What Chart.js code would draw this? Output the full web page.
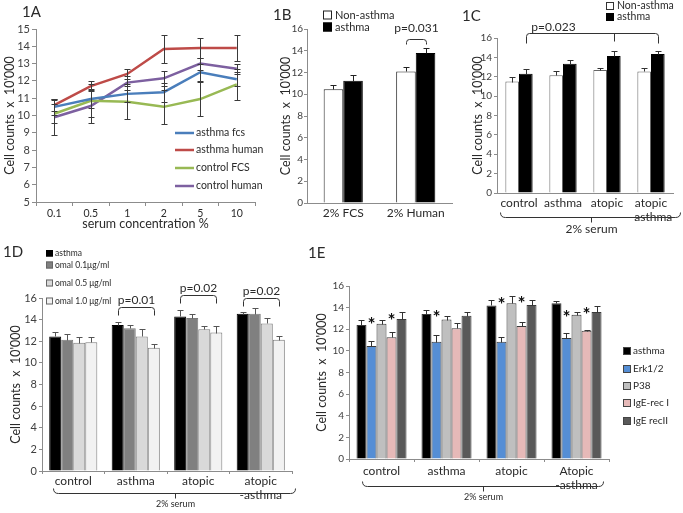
<!DOCTYPE html>
<html>
<head>
<meta charset="utf-8">
<script src="https://cdn.jsdelivr.net/npm/chart.js"></script>
<style>
  body { margin: 0; width: 683px; height: 513px; position: relative; overflow: hidden; background: #fff; }
  canvas { position: absolute; }
</style>
</head>
<body>
<script>
// ---- 1A : serum concentration curves ----
const serumConc = ['0.1', '0.5', '1', '2', '5', '10'];
const asthmaFcs = [10.5, 10.95, 11.25, 11.35, 12.5, 12.1];
const asthmaFcsErr = [0.45, 0.5, 0.45, 0.55, 0.5, 0.4];
const asthmaHuman = [10.6, 11.7, 12.4, 13.85, 13.9, 13.9];
const asthmaHumanErr = [0.35, 0.3, 0.3, 0.8, 0.6, 0.75];
const controlFcs = [10.1, 10.85, 10.8, 10.5, 10.95, 11.8];
const controlFcsErr = [0.55, 0.95, 1.0, 1.0, 1.0, 0.9];
const controlHuman = [9.9, 10.55, 11.9, 12.15, 13.0, 12.7];
const controlHumanErr = [1.0, 1.0, 0.4, 0.45, 0.35, 0.3];

// ---- 1B : FCS vs human serum ----
const serumType = ['2% FCS', '2% Human'];
const bNonAsthma = [10.45, 12.1];
const bNonAsthmaErr = [0.4, 0.45];
const bAsthma = [11.25, 13.8];
const bAsthmaErr = [0.5, 0.45];
const bPvalue = 'p=0.031';

// ---- 1C : serum donors ----
const donorGroups = ['control', 'asthma', 'atopic', ['atopic', '-asthma']];
const cNonAsthma = [11.5, 12.15, 12.7, 12.55];
const cNonAsthmaErr = [0.5, 0.4, 0.25, 0.4];
const cAsthma = [12.3, 13.35, 14.15, 14.35];
const cAsthmaErr = [0.5, 0.4, 0.55, 0.3];
const cPvalue = 'p=0.023';

// ---- 1D : omalizumab ----
const dGroups = ['control', 'asthma', 'atopic', ['atopic', '-asthma']];
const dAsthma = [12.45, 13.5, 14.3, 14.55];
const dAsthmaErr = [0.45, 0.3, 0.55, 0.2];
const dOmal01 = [12.15, 13.2, 14.15, 14.55];
const dOmal01Err = [0.5, 0.3, 0.35, 0.5];
const dOmal05 = [11.85, 12.45, 13.1, 13.65];
const dOmal05Err = [0.5, 0.7, 0.35, 0.5];
const dOmal10 = [11.9, 11.4, 12.8, 12.15];
const dOmal10Err = [0.5, 0.35, 0.6, 0.3];
const dPvalues = ['p=0.01', 'p=0.02', 'p=0.02'];

// ---- 1E : inhibitors ----
const eGroups = ['control', 'asthma', 'atopic', ['Atopic', '-asthma']];
const eAsthma = [12.4, 13.4, 14.2, 14.4];
const eAsthmaErr = [0.45, 0.35, 0.55, 0.25];
const eErk = [10.45, 10.85, 10.85, 11.2];
const eErkErr = [0.45, 0.65, 0.4, 0.45];
const eP38 = [12.5, 12.9, 14.4, 13.35];
const eP38Err = [0.35, 0.35, 0.65, 0.2];
const eIgE1 = [11.25, 12.1, 12.3, 11.85];
const eIgE1Err = [0.5, 0.5, 0.35, 0.1];
const eIgE2 = [12.95, 13.25, 14.25, 13.6];
const eIgE2Err = [0.65, 0.3, 0.45, 0.55];
const eErkSig = [true, true, true, true];
const eIgE1Sig = [true, false, true, true];

const panelTags = ['1A', '1B', '1C', '1D', '1E'];

const FONT = "Lato, 'Open Sans', sans-serif";
const AXIS = '#8c8c8c';
const TICK = '#404040';
const TXT = '#2a2a2a';
const Y_TITLE = "Cell counts  x  10'000";

Chart.defaults.font.family = FONT;
Chart.defaults.color = TXT;
Chart.defaults.animation = false;
Chart.defaults.events = [];
Chart.defaults.plugins.legend.display = false;
Chart.defaults.plugins.tooltip.enabled = false;

function canvasAt(left, top, w, h) {
    const c = document.createElement('canvas');
    c.width = w; c.height = h;
    c.style.left = left + 'px'; c.style.top = top + 'px';
    c.style.width = w + 'px'; c.style.height = h + 'px';
    document.body.appendChild(c);
    return c;
}

function yScale(min, max, step, width, size, tick, pad, titlePad) {
    return {
        min: min, max: max,
        ticks: { stepSize: step, font: { size: size }, color: TICK, padding: pad },
        grid: { drawOnChartArea: false, tickLength: tick, color: AXIS },
        border: { color: AXIS },
        title: { display: true, text: Y_TITLE, font: { size: 12.5 }, color: TXT, padding: { top: titlePad, bottom: 0 } },
        afterFit: s => { s.width = width; }
    };
}

function xScale(height, size, tick, pad) {
    return {
        offset: true,
        ticks: { font: { size: size }, color: TXT, padding: pad, maxRotation: 0, autoSkip: false },
        grid: { drawOnChartArea: false, offset: true, drawTicks: tick > 0, tickLength: tick, color: AXIS },
        border: { color: AXIS },
        afterFit: s => { s.height = height; }
    };
}

function bar(label, data, fill, border) {
    return { label: label, data: data, backgroundColor: fill, borderColor: border, borderWidth: 1, borderSkipped: 'start' };
}

// error bars on every element of a dataset
function errBars(chart, ds, errs, both, cap, color) {
    const ctx = chart.ctx, y = chart.scales.y;
    const vals = chart.data.datasets[ds].data;
    ctx.save();
    ctx.strokeStyle = color;
    ctx.lineWidth = 1;
    chart.getDatasetMeta(ds).data.forEach((el, i) => {
        const x = Math.round(el.x) + 0.5;
        const top = Math.round(y.getPixelForValue(vals[i] + errs[i])) + 0.5;
        const bot = Math.round(y.getPixelForValue(both ? vals[i] - errs[i] : vals[i])) + 0.5;
        ctx.beginPath();
        ctx.moveTo(x, bot); ctx.lineTo(x, top);
        ctx.moveTo(x - cap, top); ctx.lineTo(x + cap, top);
        if (both) { ctx.moveTo(x - cap, bot); ctx.lineTo(x + cap, bot); }
        ctx.stroke();
    });
    ctx.restore();
}

// bracket opening downward over several x positions
function bracket(ctx, xs, y, leg, color) {
    const a = xs[0], b = xs[xs.length - 1], r = 3;
    ctx.save();
    ctx.strokeStyle = color; ctx.lineWidth = 1;
    ctx.beginPath();
    ctx.moveTo(a, y + leg);
    ctx.lineTo(a, y + r);
    ctx.quadraticCurveTo(a, y, a + r, y);
    ctx.lineTo(b - r, y);
    ctx.quadraticCurveTo(b, y, b, y + r);
    ctx.lineTo(b, y + leg);
    xs.slice(1, -1).forEach(x => { ctx.moveTo(x, y); ctx.lineTo(x, y + leg - 2); });
    ctx.stroke();
    ctx.restore();
}

// brace under the categories
function brace(ctx, x1, x2, y, h, label, size, color) {
    const xm = Math.round((x1 + x2) / 2) + 0.5;
    ctx.save();
    ctx.strokeStyle = color; ctx.lineWidth = 1;
    ctx.beginPath();
    ctx.moveTo(x1, y - h);
    ctx.quadraticCurveTo(x1, y, x1 + h, y);
    ctx.lineTo(x2 - h, y);
    ctx.quadraticCurveTo(x2, y, x2, y - h);
    ctx.moveTo(xm, y); ctx.lineTo(xm, y + h);
    ctx.stroke();
    ctx.fillStyle = TXT;
    ctx.font = size + 'px ' + FONT;
    ctx.textAlign = 'center'; ctx.textBaseline = 'top';
    ctx.fillText(label, xm, y + h + 1);
    ctx.restore();
}

function text(ctx, str, x, y, size, align, base) {
    ctx.save();
    ctx.fillStyle = TXT;
    ctx.font = size + 'px ' + FONT;
    ctx.textAlign = align || 'left';
    ctx.textBaseline = base || 'middle';
    ctx.fillText(str, x, y);
    ctx.restore();
}

function swatch(ctx, x, yc, s, fill, border) {
    ctx.save();
    ctx.fillStyle = fill;
    ctx.fillRect(x, yc - s / 2, s, s);
    ctx.strokeStyle = border; ctx.lineWidth = 1;
    ctx.strokeRect(x + 0.5, yc - s / 2 + 0.5, s - 1, s - 1);
    ctx.restore();
}

// panel letters on a page-size canvas underneath
(function () {
    const ctx = canvasAt(0, 0, 683, 513).getContext('2d');
    const spots = [[22, 12], [273, 15], [462, 16], [3, 252], [308, 253]];
    panelTags.forEach((t, i) => text(ctx, t, spots[i][0], spots[i][1], 15));
})();

// ================= 1A =================
const lineColors = ['#4a7ebb', '#be4b48', '#98b954', '#7d60a0'];
const lineNames = ['asthma fcs', 'asthma human', 'control FCS', 'control human'];
const lineErrs = [asthmaFcsErr, asthmaHumanErr, controlFcsErr, controlHumanErr];
new Chart(canvasAt(0, 0, 272, 235), {
    type: 'line',
    data: {
        labels: serumConc,
        datasets: [asthmaFcs, asthmaHuman, controlFcs, controlHuman].map((d, i) => ({
            label: lineNames[i], data: d, borderColor: lineColors[i], backgroundColor: lineColors[i],
            borderWidth: 2.5, pointRadius: 0, tension: 0, fill: false
        }))
    },
    options: {
        responsive: false,
        layout: { padding: { top: 29, right: 17, left: 0, bottom: 0 } },
        scales: {
            x: Object.assign(xScale(33, 10.5, 4, 1), {
                title: { display: true, text: 'serum concentration %', font: { size: 12.5 }, color: TXT, padding: { top: 0, bottom: 4 } }
            }),
            y: yScale(5, 15, 1, 36, 11, 4, 2, 2)
        }
    },
    plugins: [{
        id: 'panelA',
        afterDatasetsDraw(chart) {
            const ctx = chart.ctx;
            lineErrs.forEach((e, i) => errBars(chart, i, e, true, 3, '#3a3a3a'));
            const ys = [133, 150, 168, 186];
            ys.forEach((y, i) => {
                ctx.save();
                ctx.strokeStyle = lineColors[i]; ctx.lineWidth = 2.5;
                ctx.beginPath(); ctx.moveTo(175, y); ctx.lineTo(194, y); ctx.stroke();
                ctx.restore();
                text(ctx, lineNames[i], 196, y, 10.5);
            });
        }
    }]
});

// ================= 1B =================
new Chart(canvasAt(270, 0, 187, 235), {
    type: 'bar',
    data: {
        labels: serumType,
        datasets: [bar('Non-asthma', bNonAsthma, '#ffffff', '#222'), bar('asthma', bAsthma, '#000000', '#000')]
    },
    options: {
        responsive: false,
        layout: { padding: { top: 29, right: 5, left: 0, bottom: 0 } },
        datasets: { bar: { categoryPercentage: 0.54, barPercentage: 1 } },
        scales: { x: xScale(32, 12, 0, 3), y: yScale(0, 16, 2, 37, 10, 3, 1, 8) }
    },
    plugins: [{
        id: 'panelB',
        afterDatasetsDraw(chart) {
            const ctx = chart.ctx, y = chart.scales.y;
            errBars(chart, 0, bNonAsthmaErr, false, 3, '#222');
            errBars(chart, 1, bAsthmaErr, false, 3, '#222');
            ctx.save(); ctx.translate(-270, 0);
            swatch(ctx, 323, 15, 9, '#fff', '#222');
            swatch(ctx, 323, 27, 9, '#000', '#000');
            text(ctx, 'Non-asthma', 335, 15, 11);
            text(ctx, 'asthma', 335, 27, 11);
            ctx.restore();
            const xs = [chart.getDatasetMeta(0).data[1].x, chart.getDatasetMeta(1).data[1].x].map(v => Math.round(v) + 0.5);
            const by = Math.round(y.getPixelForValue(15.1)) + 0.5;
            bracket(ctx, xs, by, 5, '#333');
            text(ctx, bPvalue, (xs[0] + xs[1]) / 2, by - 8, 12, 'center', 'alphabetic');
        }
    }]
});

// ================= 1C =================
new Chart(canvasAt(465, 0, 218, 240), {
    type: 'bar',
    data: {
        labels: donorGroups,
        datasets: [bar('Non-asthma', cNonAsthma, '#ffffff', '#666'), bar('asthma', cAsthma, '#000000', '#000')]
    },
    options: {
        responsive: false,
        layout: { padding: { top: 38, right: 10, left: 0, bottom: 0 } },
        datasets: { bar: { categoryPercentage: 0.62, barPercentage: 1 } },
        scales: { x: xScale(47, 12, 0, 3), y: yScale(0, 16, 2, 32, 10, 3, 2, 5) }
    },
    plugins: [{
        id: 'panelC',
        afterDatasetsDraw(chart) {
            const ctx = chart.ctx, a = chart.chartArea, y = chart.scales.y;
            errBars(chart, 0, cNonAsthmaErr, false, 3, '#333');
            errBars(chart, 1, cAsthmaErr, false, 3, '#333');
            ctx.save(); ctx.translate(-465, 0);
            swatch(ctx, 606, 6, 8, '#fff', '#333');
            swatch(ctx, 606, 17, 8, '#000', '#000');
            text(ctx, 'Non-asthma', 617, 6, 10.5);
            text(ctx, 'asthma', 617, 17, 10.5);
            ctx.restore();
            const m = chart.getDatasetMeta(1).data;
            const xs = [m[0].x, m[2].x, m[3].x].map(v => Math.round(v) + 0.5);
            const by = Math.round(y.getPixelForValue(16.5)) + 0.5;
            bracket(ctx, xs, by, 10, '#333');
            text(ctx, cPvalue, xs[0] + 27, by - 3, 12, 'center', 'alphabetic');
            brace(ctx, a.left + 3.5, a.right + 7.5, Math.round(a.bottom + 24) + 0.5, 5, '2% serum', 12, '#333');
        }
    }]
});

// ================= 1D =================
const dFills = ['#000000', '#808080', '#d9d9d9', '#f2f2f2'];
const dNames = ['asthma', 'omal 0.1\u03bcg/ml', 'omal 0.5 \u03bcg/ml', 'omal 1.0 \u03bcg/ml'];
new Chart(canvasAt(0, 250, 300, 263), {
    type: 'bar',
    data: {
        labels: dGroups,
        datasets: [dAsthma, dOmal01, dOmal05, dOmal10].map((d, i) => bar(dNames[i], d, dFills[i], i === 0 ? '#000' : '#7a7a7a'))
    },
    options: {
        responsive: false,
        layout: { padding: { top: 48, right: 8, left: 0, bottom: 0 } },
        datasets: { bar: { categoryPercentage: 0.77, barPercentage: 1 } },
        scales: { x: xScale(42, 12, 3, 0), y: yScale(0, 16, 2, 42, 11, 3, 2, 8) }
    },
    plugins: [{
        id: 'panelD',
        afterDatasetsDraw(chart) {
            const ctx = chart.ctx, a = chart.chartArea, y = chart.scales.y;
            [dAsthmaErr, dOmal01Err, dOmal05Err, dOmal10Err].forEach((e, i) => errBars(chart, i, e, false, 3, '#555'));
            ctx.save(); ctx.translate(0, -250);
            [253, 265, 283, 301].forEach((yy, i) => {
                swatch(ctx, 46, yy, 7, dFills[i], i === 0 ? '#000' : '#666');
                text(ctx, dNames[i], 55, yy, 8.5);
            });
            ctx.restore();
            const levels = [15.15, 16.25, 16.0];
            dPvalues.forEach((p, k) => {
                const g = k + 1;
                const xs = [chart.getDatasetMeta(0).data[g].x, chart.getDatasetMeta(3).data[g].x].map(v => Math.round(v) + 0.5);
                const by = Math.round(y.getPixelForValue(levels[k])) + 0.5;
                bracket(ctx, xs, by, 8, '#333');
                text(ctx, p, (xs[0] + xs[1]) / 2, by - 4, 12, 'center', 'alphabetic');
            });
            brace(ctx, a.left + 11.5, a.right + 3.5, Math.round(a.bottom + 22) + 0.5, 5, '2% serum', 9, '#333');
        }
    }]
});

// ================= 1E =================
const eFills = ['#000000', '#558ed5', '#bfbfbf', '#e6b9b8', '#595959'];
const eNames = ['asthma', 'Erk1/2', 'P38', 'IgE-rec I', 'IgE recII'];
new Chart(canvasAt(305, 245, 378, 268), {
    type: 'bar',
    data: {
        labels: eGroups,
        datasets: [eAsthma, eErk, eP38, eIgE1, eIgE2].map((d, i) => bar(eNames[i], d, eFills[i], '#3a3a3a'))
    },
    options: {
        responsive: false,
        layout: { padding: { top: 41, right: 74, left: 0, bottom: 0 } },
        datasets: { bar: { categoryPercentage: 0.77, barPercentage: 1 } },
        scales: { x: xScale(54, 12, 3, 2), y: yScale(0, 16, 2, 44, 10, 3, 2, 9) }
    },
    plugins: [{
        id: 'panelE',
        afterDatasetsDraw(chart) {
            const ctx = chart.ctx, a = chart.chartArea, y = chart.scales.y;
            [eAsthmaErr, eErkErr, eP38Err, eIgE1Err, eIgE2Err].forEach((e, i) => errBars(chart, i, e, false, 3, '#333'));
            // asterisk heights
            const starAt = { 1: [12.75, 13.45, 14.6, 13.45], 3: [13.1, null, 14.7, 13.65] };
            const sig = { 1: eErkSig, 3: eIgE1Sig };
            [1, 3].forEach(ds => {
                chart.getDatasetMeta(ds).data.forEach((el, i) => {
                    if (!sig[ds][i]) return;
                    const yy = y.getPixelForValue(starAt[ds][i]);
                    ctx.save();
                    ctx.fillStyle = '#111';
                    ctx.font = 'bold 19px ' + FONT;
                    ctx.textAlign = 'center'; ctx.textBaseline = 'alphabetic';
                    ctx.fillText('*', el.x, yy + 10);
                    ctx.restore();
                });
            });
            ctx.save(); ctx.translate(-305, -245);
            [351, 369, 386, 403, 421].forEach((yy, i) => {
                swatch(ctx, 623, yy, 8, eFills[i], '#444');
                text(ctx, eNames[i], 633, yy, 10);
            });
            ctx.restore();
            brace(ctx, a.left + 13.5, a.right - 5.5, Math.round(a.bottom + 27) + 0.5, 5, '2% serum', 9, '#333');
        }
    }]
});
</script>
</body>
</html>
